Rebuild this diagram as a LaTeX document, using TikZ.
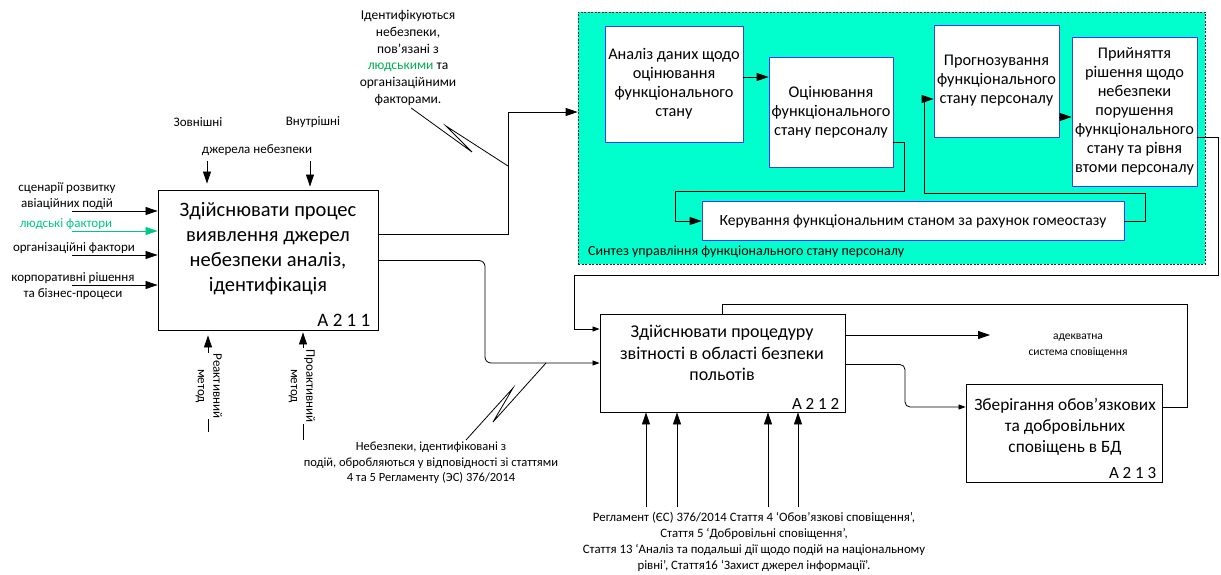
\documentclass[tikz,border=0pt]{standalone}
\usepackage{fontspec}
\setmainfont{Carlito}
\usetikzlibrary{arrows.meta,calc}

\definecolor{synth}{RGB}{0,255,204}
\definecolor{innerblue}{RGB}{60,60,255}
\definecolor{humang}{RGB}{0,200,130}
\definecolor{humant}{RGB}{0,176,80}

\tikzset{
  blk/.style={draw=black, line width=0.9pt, fill=white, inner sep=0pt},
  sub/.style={draw=innerblue, line width=0.8pt, fill=white, align=center,
    font=\fontsize{16.3}{19}\selectfont, inner sep=0pt},
  big/.style={-{Triangle[length=12pt,width=8pt]}, line width=0.8pt},
  sml/.style={-{Triangle[length=7pt,width=5pt]}, line width=0.8pt},
  conn/.style={line width=0.8pt},
  lbl/.style={align=center, font=\fontsize{13}{15.5}\selectfont, inner sep=0pt},
  tag/.style={anchor=south east, inner sep=0pt},
}

\begin{document}
\begin{tikzpicture}[x=1pt,y=-1pt]
\useasboundingbox (0,0) rectangle (1221,575);

% ---------- synthesis block (dashed, filled) ----------
\node[draw=black!85, dash pattern=on 2pt off 1.5pt, line width=0.7pt, fill=synth,
      minimum width=627pt, minimum height=252pt, inner sep=0pt] (synth) at (891.5,138) {};
\node[anchor=west, inner sep=0pt, font=\fontsize{14}{16}\selectfont] (synthlbl) at (588,252)
  {Синтез управління функціонального стану персоналу};

\node[sub, minimum width=138pt, minimum height=116pt] (b1) at (674,84)
  {Аналіз даних щодо\\оцінювання\\функціонального\\стану};
\node[sub, minimum width=124pt, minimum height=110pt] (b2) at (831,112)
  {Оцінювання\\функціонального\\стану персоналу};
\node[sub, minimum width=125pt, minimum height=112pt] (b3) at (996.5,81)
  {Прогнозування\\функціонального\\стану персоналу};
\node[sub, minimum width=125pt, minimum height=149pt] (b4) at (1134.5,111.5)
  {Прийняття\\рішення щодо\\небезпеки\\порушення\\функціонального\\стану та рівня\\втоми персоналу};
\node[sub, minimum width=422pt, minimum height=39pt, font=\fontsize{15.6}{19}\selectfont] (b5) at (913,221)
  {Керування функціональним станом за рахунок гомеостазу};

% links inside the synthesis block
\draw[big] (b1.east |- 0,77) -- (b2.west |- 0,77);
\draw[big] ($(b2.south east)+(0,-25)$) -| (904,191) -| (675,221) -- (b5.west);
\draw[big] (b5.east) -| (1145,193) -| (924,99) -- (b3.west |- 0,99);
\draw[big] (b3.east |- 0,117) -- (b4.west |- 0,117);

% ---------- A211 ----------
\node[blk, minimum width=220pt, minimum height=140pt] (a211) at (268,260) {};
\node[align=center, inner sep=0pt, font=\fontsize{20.5}{25}\selectfont] (a211t) at (268,249)
  {Здійснювати процес\\виявлення джерел\\небезпеки аналіз,\\ідентифікація};
\node[tag, font=\fontsize{19}{22}\selectfont] (a211n) at ($(a211.south east)+(-8,-4)$) {A 2 1 1};

% inputs
\node[lbl] (in1t) at (67,196) {сценарії розвитку\\авіаційних подій};
\node[lbl, text=humang] (in2t) at (66,224) {людські фактори};
\node[lbl] (in3t) at (74,248) {організаційні фактори};
\node[lbl] (in4t) at (73,286) {корпоративні рішення\\та бізнес-процеси};
\coordinate (i1) at (72,211);
\coordinate (i2) at (72,231);
\coordinate (i3) at (72,255);
\coordinate (i4) at (72,285);
\draw[big] (i1) -- (i1 -| a211.west);
\draw[big, draw=humang, fill=humang] (i2) -- (i2 -| a211.west);
\draw[big] (i3) -- (i3 -| a211.west);
\draw[big] (i4) -- (i4 -| a211.west);

% controls
\node[lbl] (extt) at (198,122) {Зовнішні};
\node[lbl] (intt) at (313,122) {Внутрішні};
\node[lbl] (srct) at (257,150) {джерела небезпеки};
\coordinate (t1) at (207,161);
\coordinate (t2) at (310,161);
\draw[big, shorten >=6pt] (t1) -- (t1 |- a211.north);
\draw[big, shorten >=3pt] (t2) -- (t2 |- a211.north);

% mechanisms
\coordinate (r1) at (208,432);
\coordinate (p1) at (303,440);
\draw[big, shorten >=5pt] (r1) -- (r1 |- a211.south);
\draw[big, shorten >=2pt] (p1) -- (p1 |- a211.south);
\node[lbl, rotate=-90, fill=white, inner sep=1pt] (rmt) at (209,386) {Реактивний\\метод};
\node[lbl, rotate=-90, fill=white, inner sep=1pt] (pmt) at (302,386) {Проактивний\\метод};

% call-out about identified hazards
\node[lbl, font=\fontsize{13.5}{16.7}\selectfont] (hz1) at (408,58)
  {Ідентифікуються\\небезпеки,\\пов’язані з\\\textcolor{humant}{людськими} та\\організаційними\\факторами.};
\coordinate (s1b) at (472,152);
\coordinate (s1c) at (446,126);
\coordinate (s1d) at (508,166);
\draw[conn, shorten <=4pt] (hz1.south) -- (s1b) -- (s1c) -- (s1d);

% ---------- A212 ----------
\node[blk, minimum width=245pt, minimum height=98pt] (a212) at (722.5,363) {};
\node[align=center, inner sep=0pt, font=\fontsize{18}{21.5}\selectfont] (a212t) at (722,353)
  {Здійснювати процедуру\\звітності в області безпеки\\польотів};
\node[tag, font=\fontsize{17}{20}\selectfont] (a212n) at ($(a212.south east)+(-6,-3)$) {A 2 1 2};

% ---------- outputs of A211 ----------
\draw[big] ($(a211.north east)+(0,45)$) -| (508,112) -- (synth.west |- 0,112);
\coordinate (j2) at (485,363);
\draw[sml, rounded corners=6pt] ($(a211.north east)+(0,71)$) -| (j2) -- (j2 -| a212.west);

% feedback from the synthesis block
\draw[sml] ($(b4.north east)+(0,101)$) -| (1218,275) -| (574,329) -- (a212.west |- 0,329);

\node[lbl, font=\fontsize{12.5}{15.5}\selectfont] (hz2) at (431,463)
  {Небезпеки, ідентифіковані з\\подій, обробляються у відповідності зі статтями\\4 та 5 Регламенту (ЭС) 376/2014};
\coordinate (s2a) at (466,440);
\coordinate (s2b) at (513,388);
\coordinate (s2c) at (493,422);
\coordinate (s2d) at (546,363);
\draw[conn] (s2a) -- (s2b) -- (s2c) -- (s2d);

% regulations (controls of A212)
\foreach \n/\x in {1/646, 2/677, 3/768, 4/798} {
  \coordinate (m\n) at (\x,507);
  \draw[big] (m\n) -- (m\n |- a212.south);
}
\node[lbl, font=\fontsize{12.8}{16}\selectfont] (regs) at (754,542)
  {Регламент (ЄС) 376/2014 Стаття 4 ‘Обов’язкові сповіщення’,\\
   Стаття 5 ‘Добровільні сповіщення’,\\
   Стаття 13 ‘Аналіз та подальші дії щодо подій на національному\\
   рівні’, Стаття16 ‘Захист джерел інформації’.};

% output of A212
\node[lbl, font=\fontsize{11.5}{16}\selectfont] (out1) at (1078,346) {адекватна\\система сповіщення};
\coordinate (o1) at (990,335);
\draw[big] (a212.east |- o1) -- (o1);

% ---------- A213 ----------
\node[blk, minimum width=196pt, minimum height=98pt] (a213) at (1064,433) {};
\node[align=center, inner sep=0pt, font=\fontsize{17.3}{21}\selectfont] (a213t) at (1065,427)
  {Зберігання обов'язкових\\та добровільних\\сповіщень в БД};
\node[tag, font=\fontsize{17}{20}\selectfont] (a213n) at ($(a213.south east)+(-6,-4)$) {A 2 1 3};

\coordinate (j3) at (905,407);
\draw[sml, rounded corners=5pt] ($(a212.north east)+(0,51)$) -| (j3) -- (j3 -| a213.west);
\draw[conn] (a213.east |- j3) -| (1187,304) -| (a212.north);

\end{tikzpicture}
\end{document}
